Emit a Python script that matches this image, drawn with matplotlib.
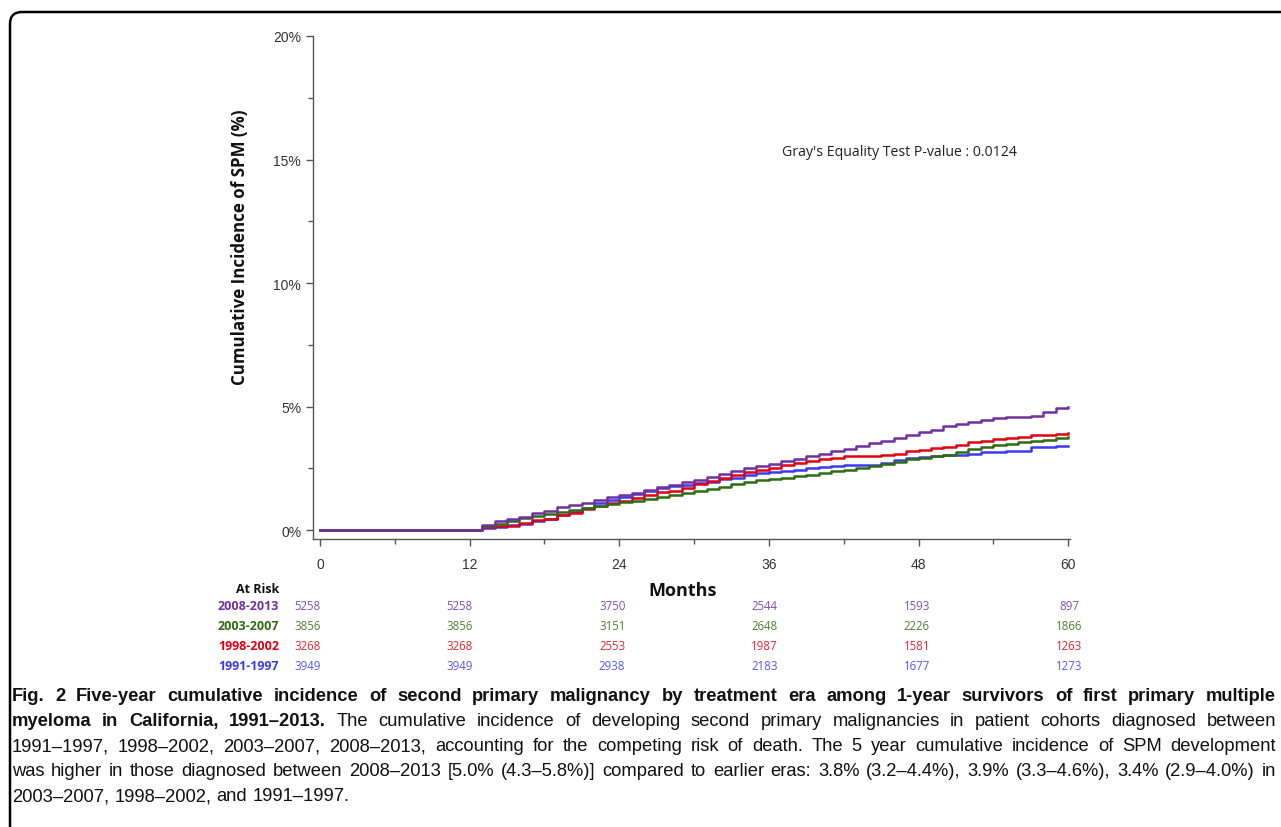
import matplotlib
matplotlib.use("Agg")
import matplotlib.pyplot as plt
from matplotlib.patches import FancyBboxPatch
from matplotlib.ticker import MultipleLocator, FuncFormatter

# ---- data ----
months = [0] + list(range(12, 61))

cif_2008_2013 = [0, 0, 0.20, 0.37, 0.45, 0.55, 0.68, 0.78, 0.92, 1.02, 1.10, 1.22, 1.32,
                 1.41, 1.52, 1.64, 1.75, 1.84, 1.93, 2.02, 2.13, 2.28, 2.40, 2.50, 2.60,
                 2.68, 2.80, 2.88, 2.98, 3.08, 3.20, 3.30, 3.42, 3.52, 3.60, 3.72, 3.85,
                 3.98, 4.07, 4.20, 4.30, 4.36, 4.45, 4.55, 4.58, 4.58, 4.62, 4.78, 4.95, 4.98]
cif_2003_2007 = [0, 0, 0.15, 0.25, 0.35, 0.48, 0.56, 0.64, 0.74, 0.82, 0.90, 0.98, 1.05,
                 1.12, 1.18, 1.25, 1.32, 1.42, 1.50, 1.58, 1.66, 1.76, 1.85, 1.95, 2.02,
                 2.07, 2.12, 2.20, 2.24, 2.30, 2.38, 2.45, 2.52, 2.60, 2.68, 2.76, 2.86,
                 2.93, 2.98, 3.05, 3.15, 3.28, 3.36, 3.44, 3.50, 3.55, 3.60, 3.66, 3.72, 3.78]
cif_1998_2002 = [0, 0, 0.12, 0.15, 0.17, 0.30, 0.40, 0.45, 0.60, 0.70, 0.85, 0.98, 1.08,
                 1.18, 1.30, 1.42, 1.55, 1.60, 1.72, 1.85, 1.98, 2.12, 2.25, 2.35, 2.45,
                 2.52, 2.65, 2.73, 2.80, 2.88, 2.93, 2.98, 3.00, 3.00, 3.02, 3.10, 3.20,
                 3.26, 3.33, 3.38, 3.45, 3.56, 3.62, 3.68, 3.72, 3.78, 3.83, 3.86, 3.90, 3.94]
cif_1991_1997 = [0, 0, 0.08, 0.14, 0.20, 0.25, 0.35, 0.44, 0.60, 0.75, 0.90, 1.08, 1.22,
                 1.32, 1.45, 1.60, 1.72, 1.78, 1.84, 1.90, 1.96, 2.05, 2.12, 2.22, 2.30,
                 2.35, 2.38, 2.42, 2.50, 2.55, 2.60, 2.62, 2.62, 2.65, 2.72, 2.82, 2.90,
                 2.95, 2.98, 3.02, 3.05, 3.10, 3.15, 3.18, 3.20, 3.22, 3.35, 3.37, 3.40, 3.41]

eras = ["2008-2013", "2003-2007", "1998-2002", "1991-1997"]
era_colors = ["#7030A0", "#2E6B12", "#E00010", "#3A3AF0"]
series = [cif_2008_2013, cif_2003_2007, cif_1998_2002, cif_1991_1997]

risk_months = [0, 12, 24, 36, 48, 60]
at_risk = [
    [5258, 5258, 3750, 2544, 1593, 897],
    [3856, 3856, 3151, 2648, 2226, 1866],
    [3268, 3268, 2553, 1987, 1581, 1263],
    [3949, 3949, 2938, 2183, 1677, 1273],
]

caption_lines = [
    "Fig. 2 Five-year cumulative incidence of second primary malignancy by treatment era among 1-year survivors of first primary multiple",
    "myeloma in California, 1991–2013. The cumulative incidence of developing second primary malignancies in patient cohorts diagnosed between",
    "1991–1997, 1998–2002, 2003–2007, 2008–2013, accounting for the competing risk of death. The 5 year cumulative incidence of SPM development",
    "was higher in those diagnosed between 2008–2013 [5.0% (4.3–5.8%)] compared to earlier eras: 3.8% (3.2–4.4%), 3.9% (3.3–4.6%), 3.4% (2.9–4.0%) in",
    "2003–2007, 1998–2002, and 1991–1997.",
]
bold_words = [20, 4, 0, 0, 0]   # leading bold words per caption line

W, H = 1281, 828
fig = plt.figure(figsize=(W / 100, H / 100), dpi=100)
plt.rcParams["font.family"] = ["Open Sans", "DejaVu Sans"]

ax = fig.add_axes([313 / W, 1 - 540 / H, (1070 - 313) / W, (540 - 37) / H])
# draw oldest first so the newest era sits on top
for vals, col in zip(series[::-1], era_colors[::-1]):
    ax.plot(months, vals, drawstyle="steps-post", color=col, lw=1.8)

ax.set_xlim(-0.56, 60.15)
ax.set_ylim(-0.36, 20)
ax.xaxis.set_major_locator(MultipleLocator(12))
ax.xaxis.set_minor_locator(MultipleLocator(6))
ax.yaxis.set_major_locator(MultipleLocator(5))
ax.yaxis.set_minor_locator(MultipleLocator(2.5))
ax.yaxis.set_major_formatter(FuncFormatter(lambda v, p: f"{v:.0f}%"))
for s in ["top", "right"]:
    ax.spines[s].set_visible(False)
for s in ["left", "bottom"]:
    ax.spines[s].set_color("#555555")
    ax.spines[s].set_linewidth(1.0)
ax.tick_params(which="major", length=5, width=1, color="#555555", labelcolor="#333333",
               labelsize=10)
ax.tick_params(which="minor", length=3.5, width=1, color="#555555")
ax.tick_params(axis="x", pad=8)
for lab in ax.get_xticklabels() + ax.get_yticklabels():
    lab.set_family(["Liberation Sans", "DejaVu Sans"])

fig.text(240 / W, 1 - 247 / H, "Cumulative Incidence of SPM (%)", rotation=90,
         ha="center", va="center", fontsize=12.2, fontweight="bold", color="#111111")
fig.text(899 / W, 1 - 153 / H, "Gray's Equality Test P-value : 0.0124",
         ha="center", va="center", fontsize=10.2, color="#222222")
fig.text(683 / W, 1 - 591 / H, "Months", ha="center", va="center",
         fontsize=13, fontweight="bold", color="#111111")

# at-risk table
fig.text(279 / W, 1 - 590 / H, "At Risk", ha="right", va="center",
         fontsize=9, fontweight="bold", color="#111111")
row_y = [606, 627, 647, 667]
for era, col, counts, y in zip(eras, era_colors, at_risk, row_y):
    fig.text(279 / W, 1 - y / H, era, ha="right", va="center",
             fontsize=9, fontweight="bold", color=col)
    for m, n in zip(risk_months, counts):
        xd = m * 1.018 - 1.0
        xpix = ax.transData.transform((xd, 0))[0]
        fig.text(xpix / W, 1 - y / H, str(n), ha="center", va="center",
                 fontsize=8.3, color=col, alpha=0.85)

# rounded frame around the figure panel
frame = FancyBboxPatch((10, -40), 1320, H - 13 + 40,
                       boxstyle="round,pad=0,rounding_size=12",
                       transform=None, fill=False, ec="black", lw=1.8)
fig.patches.append(frame)

# justified caption, font sized so the longest line just fits
renderer = fig.canvas.get_renderer()
cap_font = ["Liberation Sans", "DejaVu Sans"]
x0, x1 = 12, 1276
line_y = [697, 722, 747, 772, 797]

base = 12.0
widest = 0
for line, nb in zip(caption_lines[:-1], bold_words):
    words = line.split(" ")
    tot = 0
    for j, w in enumerate(words):
        t = fig.text(0, 0, w + " ", fontsize=base, family=cap_font,
                     fontweight="bold" if j < nb else "normal")
        tot += t.get_window_extent(renderer).width
        t.remove()
    widest = max(widest, tot)
cap_size = base * (x1 - x0) / widest * 0.985

for i, (line, nb, y) in enumerate(zip(caption_lines, bold_words, line_y)):
    words = line.split(" ")
    texts = []
    for j, w in enumerate(words):
        t = fig.text(0, 1 - y / H, w, ha="left", va="center", fontsize=cap_size,
                     family=cap_font, color="#111111",
                     fontweight="bold" if j < nb else "normal")
        texts.append(t)
    widths = [t.get_window_extent(renderer).width for t in texts]
    if i < len(caption_lines) - 1:
        gap = (x1 - x0 - sum(widths)) / (len(words) - 1)
    else:
        gap = cap_size * 100 / 72 * 0.28
    x = x0
    for t, wd in zip(texts, widths):
        t.set_x(x / W)
        x += wd + gap

fig.savefig("out.png", dpi=100)
